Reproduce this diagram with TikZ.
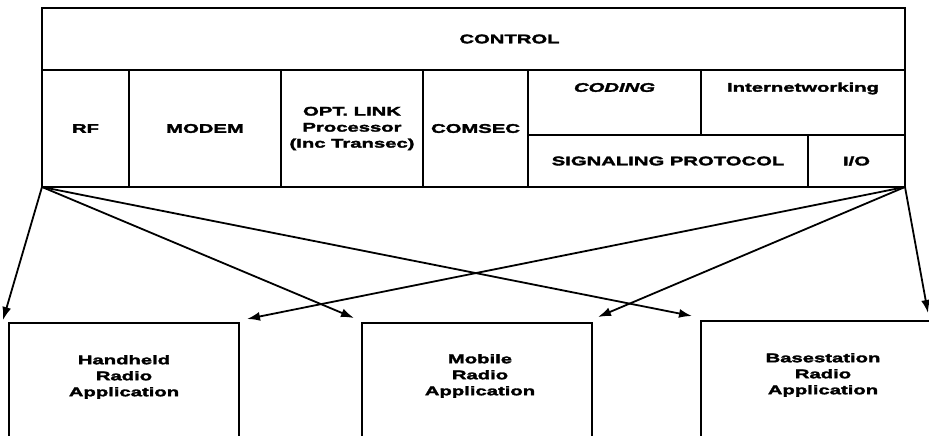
\documentclass[tikz,border=0pt]{standalone}
\usepackage{fontspec}
\newfontfamily\lf[FakeStretch=1.62,FakeBold=2.5]{Liberation Sans}
\usetikzlibrary{arrows.meta}
\begin{document}
\begin{tikzpicture}[x=1pt,y=-1pt,
  box/.style={draw, line width=2pt, inner sep=0pt, outer sep=0pt, anchor=north west},
  txt/.style={font=\lf\bfseries\fontsize{12.5}{16}\selectfont, align=center, inner sep=0pt},
  conn/.style={line width=1.8pt, -{Latex[length=13pt,width=9pt]}}]
\useasboundingbox (0,0) rectangle (929,436);
% top block
\node[box, minimum width=863pt, minimum height=62pt,
      label={[txt,xshift=36pt]center:CONTROL}] (control) at (42,8) {};
\node[box, txt, minimum width=87pt,  minimum height=117pt] (rf)     at (42,70)  {RF};
\node[box, txt, minimum width=152pt, minimum height=117pt] (modem)  at (129,70) {MODEM};
\node[box, txt, minimum width=142pt, minimum height=117pt] (opt)    at (281,70) {OPT. LINK\\Processor\\(Inc Transec)};
\node[box, txt, minimum width=105pt, minimum height=117pt] (comsec) at (423,70) {COMSEC};
\node[box, minimum width=173pt, minimum height=65pt,
      label={[txt,yshift=15pt]center:{\itshape CODING}}] (coding) at (528,70) {};
\node[box, minimum width=204pt, minimum height=65pt,
      label={[txt,yshift=14pt]center:Internetworking}] (inet) at (701,70) {};
\node[box, txt, minimum width=280pt, minimum height=52pt] (sig) at (528,135) {SIGNALING PROTOCOL};
\node[box, txt, minimum width=97pt,  minimum height=52pt] (io)  at (808,135) {I/O};
% application boxes
\node[box, minimum width=230pt, minimum height=122pt,
      label={[txt,yshift=7pt]center:Handheld\\Radio\\Application}] (hh) at (9,323) {};
\node[box, minimum width=230pt, minimum height=122pt,
      label={[txt,yshift=8pt,xshift=3pt]center:Mobile\\Radio\\Application}] (mob) at (362,323) {};
\node[box, minimum width=244pt, minimum height=124pt,
      label={[txt,yshift=8pt]center:Basestation\\Radio\\Application}] (base) at (701,321) {};
% arrow tips
\coordinate (hhL)   at (3,320);
\coordinate (mobL)  at (354,318);
\coordinate (baseL) at (692,316);
\coordinate (hhR)   at (247,319);
\coordinate (mobR)  at (598,317);
\coordinate (baseR) at (928,313);
\draw[conn] (rf.south west) -- (hhL);
\draw[conn] (rf.south west) -- (mobL);
\draw[conn] (rf.south west) -- (baseL);
\draw[conn] (io.south east) -- (hhR);
\draw[conn] (io.south east) -- (mobR);
\draw[conn] (io.south east) -- (baseR);
\end{tikzpicture}
\end{document}
